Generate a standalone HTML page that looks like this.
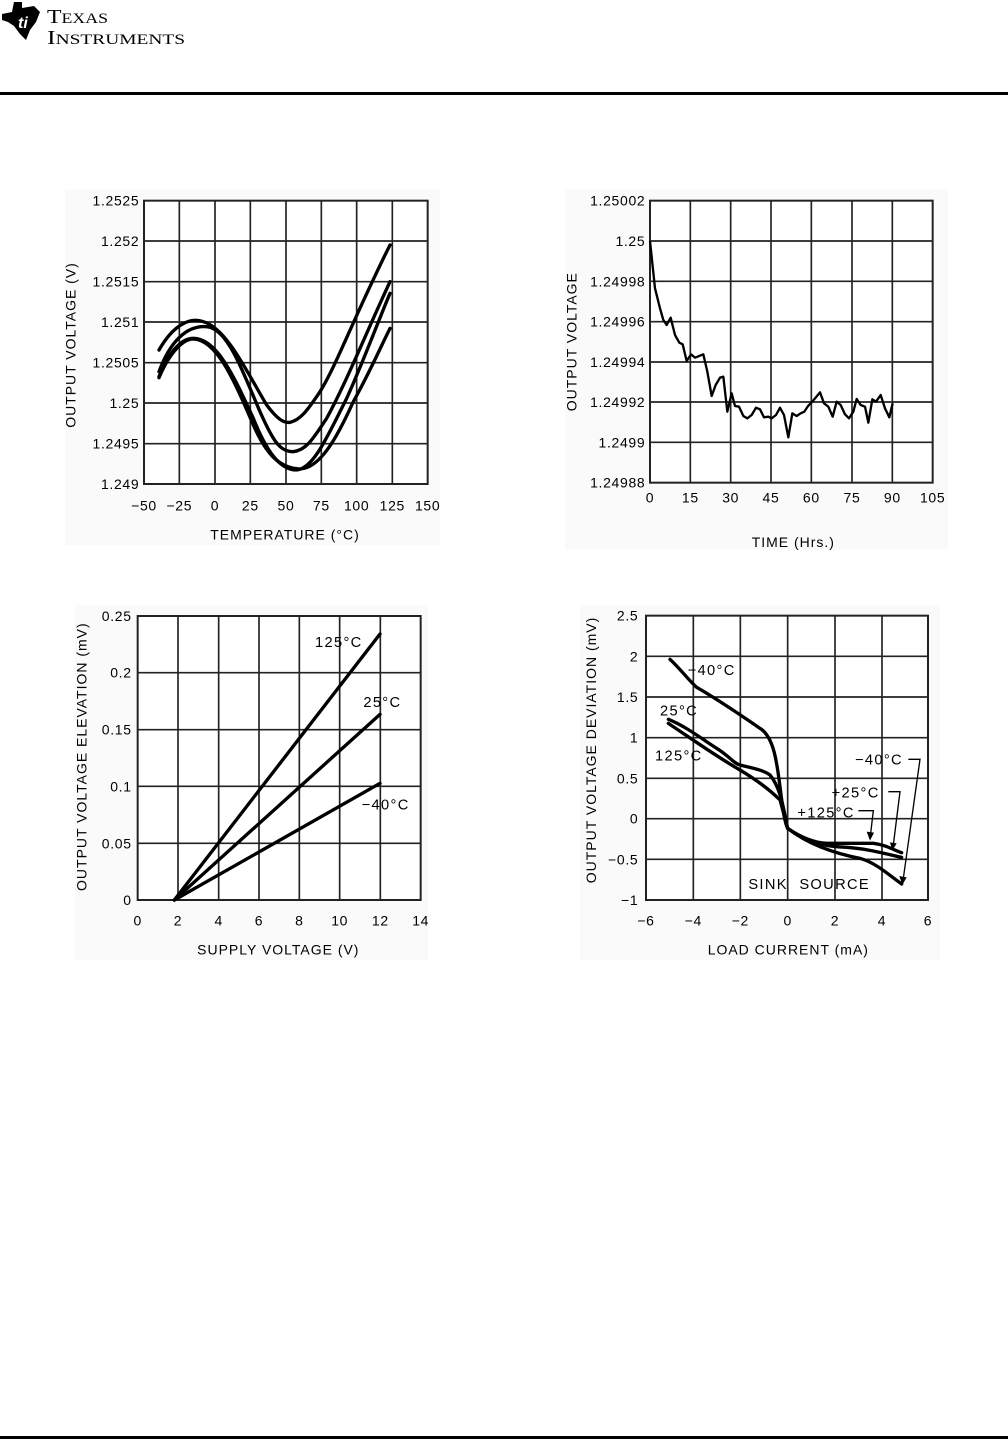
<!DOCTYPE html>
<html><head><meta charset="utf-8"><style>
html,body{margin:0;padding:0;background:#fff;}
svg{display:block;}
text{font-family:"Liberation Sans",sans-serif;fill:#000;}
</style></head><body>
<svg width="1008" height="1440" viewBox="0 0 1008 1440" xmlns="http://www.w3.org/2000/svg">
<rect width="1008" height="1440" fill="#fff"/>
<!-- logo -->
<path d="M2,14 L12,12 L14,2 L22,2 L22,8 L34,6 L40,12 L36,22 L30,30 L26,40 L20,34 L14,26 L8,22 L2,20 Z" fill="#000"/>
<text x="18" y="28" font-size="16" font-style="italic" font-weight="bold" style="fill:#fff">ti</text>
<text x="47" y="23" style="font-family:'Liberation Serif',serif" font-size="20" textLength="61" lengthAdjust="spacingAndGlyphs">T<tspan font-size="15">EXAS</tspan></text>
<text x="47" y="44" style="font-family:'Liberation Serif',serif" font-size="20" textLength="138" lengthAdjust="spacingAndGlyphs">I<tspan font-size="15">NSTRUMENTS</tspan></text>
<rect x="0" y="92" width="1008" height="3" fill="#000"/>
<rect x="0" y="1436" width="1008" height="3" fill="#000"/>

<!-- panels -->
<rect x="65" y="190" width="375" height="355" fill="#fafafa"/>
<rect x="565" y="190" width="383" height="360" fill="#fafafa"/>
<rect x="75" y="605" width="353" height="355" fill="#fafafa"/>
<rect x="580" y="605" width="360" height="355" fill="#fafafa"/>

<!-- CHART 1 -->
<g transform="translate(60,185) scale(0.33333)">
<rect x="252" y="47" width="851" height="850" fill="#fff"/>
<g stroke="#222" stroke-width="5" fill="none">
<path d="M358,47V897M465,47V897M571,47V897M678,47V897M784,47V897M890,47V897M997,47V897M252,168H1103M252,290H1103M252,411H1103M252,533H1103M252,654H1103M252,776H1103"/>
<rect x="252" y="47" width="851" height="850" stroke-width="6"/>
</g>
<g stroke="#000" stroke-width="10" fill="none" stroke-linecap="round">
<path d="M297,495 C340,420 390,395 430,410 C500,430 560,560 620,660 C650,700 670,715 690,712 C720,705 740,680 780,620 C830,540 880,400 990,180"/>
<path d="M297,560 C330,470 380,420 440,425 C500,430 540,540 600,680 C640,770 660,800 700,800 C740,795 760,760 800,700 C860,590 920,440 990,290"/>
<path d="M297,575 C330,490 370,460 400,460 C470,460 520,570 580,700 C620,800 660,855 710,855 C760,850 800,760 860,640 C910,530 950,420 990,325"/>
<path d="M297,578 C330,500 370,462 400,462 C470,465 520,580 580,720 C620,810 660,850 720,852 C780,850 830,760 880,650 C930,560 960,490 990,430"/>
</g>
<g font-size="42" text-anchor="end" letter-spacing="2">
<text x="238" y="62">1.2525</text><text x="238" y="183">1.252</text><text x="238" y="305">1.2515</text><text x="238" y="426">1.251</text><text x="238" y="548">1.2505</text><text x="238" y="669">1.25</text><text x="238" y="791">1.2495</text><text x="238" y="912">1.249</text>
</g>
<g font-size="42" text-anchor="middle" letter-spacing="2">
<text x="252" y="976">−50</text><text x="358" y="976">−25</text><text x="465" y="976">0</text><text x="571" y="976">25</text><text x="678" y="976">50</text><text x="784" y="976">75</text><text x="890" y="976">100</text><text x="997" y="976">125</text><text x="1103" y="976">150</text>
<text x="675" y="1063" letter-spacing="3">TEMPERATURE (°C)</text>
<text transform="translate(46,480) rotate(-90)" letter-spacing="3">OUTPUT VOLTAGE (V)</text>
</g>
</g>

<!-- CHART 2 -->
<g transform="translate(560,185) scale(0.33333)">
<rect x="270" y="47" width="848" height="846" fill="#fff"/>
<g stroke="#222" stroke-width="5" fill="none">
<path d="M391,47V893M512,47V893M633,47V893M754,47V893M876,47V893M997,47V893M270,168H1118M270,289H1118M270,410H1118M270,531H1118M270,651H1118M270,772H1118"/>
<rect x="270" y="47" width="848" height="846" stroke-width="6"/>
</g>
<path fill="none" stroke="#000" stroke-width="7" stroke-linejoin="round" d="M270,168 L285,310 L300,370 L310,405 L320,420 L332,398 L345,450 L358,473 L368,478 L380,528 L393,508 L405,518 L430,508 L442,560 L455,633 L467,600 L480,578 L490,575 L502,680 L515,625 L525,663 L537,665 L550,693 L562,700 L575,690 L588,668 L600,673 L612,697 L625,695 L635,700 L648,690 L660,668 L672,690 L685,757 L697,685 L710,693 L722,685 L733,680 L745,662 L757,650 L780,622 L792,655 L805,665 L818,695 L830,650 L842,660 L855,688 L867,700 L880,680 L890,642 L902,660 L915,665 L925,713 L937,643 L948,650 L962,630 L975,670 L988,697 L998,655"/>
<g font-size="42" text-anchor="end" letter-spacing="2">
<text x="256" y="62">1.25002</text><text x="256" y="183">1.25</text><text x="256" y="304">1.24998</text><text x="256" y="425">1.24996</text><text x="256" y="546">1.24994</text><text x="256" y="666">1.24992</text><text x="256" y="787">1.2499</text><text x="256" y="908">1.24988</text>
</g>
<g font-size="42" text-anchor="middle" letter-spacing="2">
<text x="270" y="953">0</text><text x="391" y="953">15</text><text x="512" y="953">30</text><text x="633" y="953">45</text><text x="754" y="953">60</text><text x="876" y="953">75</text><text x="997" y="953">90</text><text x="1118" y="953">105</text>
<text x="700" y="1086" letter-spacing="3">TIME (Hrs.)</text>
<text transform="translate(49,470) rotate(-90)" letter-spacing="3">OUTPUT VOLTAGE</text>
</g>
</g>

<!-- CHART 3 -->
<g transform="translate(60,600) scale(0.33333)">
<rect x="233" y="48" width="849" height="852" fill="#fff"/>
<g stroke="#222" stroke-width="5" fill="none">
<path d="M354,48V900M476,48V900M597,48V900M718,48V900M839,48V900M961,48V900M233,218H1082M233,389H1082M233,559H1082M233,730H1082"/>
<rect x="233" y="48" width="849" height="852" stroke-width="6"/>
</g>
<g stroke="#000" stroke-width="10" fill="none" stroke-linecap="round">
<path d="M343,900 L960,102"/><path d="M343,900 L960,343"/><path d="M343,900 L960,550"/>
</g>
<g font-size="44" letter-spacing="4">
<text x="765" y="141">125°C</text><text x="910" y="321">25°C</text><text x="905" y="629">−40°C</text>
</g>
<g font-size="42" text-anchor="end" letter-spacing="2">
<text x="215" y="63">0.25</text><text x="215" y="233">0.2</text><text x="215" y="404">0.15</text><text x="215" y="574">0.1</text><text x="215" y="745">0.05</text><text x="215" y="915">0</text>
</g>
<g font-size="42" text-anchor="middle" letter-spacing="2">
<text x="233" y="976">0</text><text x="354" y="976">2</text><text x="476" y="976">4</text><text x="597" y="976">6</text><text x="718" y="976">8</text><text x="839" y="976">10</text><text x="961" y="976">12</text><text x="1082" y="976">14</text>
<text x="655" y="1063" letter-spacing="3">SUPPLY VOLTAGE (V)</text>
<text transform="translate(80,470) rotate(-90)" letter-spacing="3">OUTPUT VOLTAGE ELEVATION (mV)</text>
</g>
</g>

<!-- CHART 4 -->
<g transform="translate(560,600) scale(0.33333)">
<rect x="258" y="47" width="846" height="853" fill="#fff"/>
<g stroke="#222" stroke-width="5" fill="none">
<path d="M400,47V900M541,47V900M683,47V900M825,47V900M966,47V900M258,169H1104M258,291H1104M258,413H1104M258,535H1104M258,656H1104M258,778H1104"/>
<rect x="258" y="47" width="846" height="853" stroke-width="6"/>
</g>
<g stroke="#000" stroke-width="10" fill="none" stroke-linecap="round">
<path d="M330,178 C360,205 385,240 410,262 C450,285 520,330 600,385 C640,410 650,480 660,560 C670,640 675,670 683,685"/>
<path d="M325,358 C380,380 430,420 470,445 C510,470 520,490 540,495 C580,505 610,510 630,525 C660,560 670,620 683,685"/>
<path d="M325,370 C400,420 470,470 540,510 C590,540 630,570 660,600 L683,685"/>
<path d="M683,685 C720,710 760,728 800,730 L940,730 C980,735 1000,750 1025,758"/>
<path d="M683,685 C730,720 780,740 860,742 C920,746 970,760 1025,772"/>
<path d="M683,685 C740,730 820,760 900,775 C950,790 980,820 1025,852"/>
</g>
<g stroke="#000" stroke-width="4" fill="none">
<path d="M895,632 H940 L932,700"/><path d="M985,575 H1020 L1000,735"/><path d="M1045,478 H1080 L1030,835"/>
</g>
<g fill="#000">
<path d="M930,722 L920,695 L942,698 Z"/><path d="M997,752 L990,727 L1010,730 Z"/><path d="M1027,855 L1018,828 L1040,832 Z"/>
</g>
<g font-size="44" letter-spacing="4">
<text x="383" y="225">−40°C</text><text x="300" y="346">25°C</text><text x="285" y="481">125°C</text>
<text x="885" y="493">−40°C</text><text x="815" y="593">+25°C</text><text x="712" y="653">+125°C</text>
<text x="565" y="867">SINK</text><text x="718" y="867">SOURCE</text>
</g>
<g font-size="42" text-anchor="end" letter-spacing="2">
<text x="235" y="62">2.5</text><text x="235" y="184">2</text><text x="235" y="306">1.5</text><text x="235" y="428">1</text><text x="235" y="550">0.5</text><text x="235" y="671">0</text><text x="235" y="793">−0.5</text><text x="235" y="915">−1</text>
</g>
<g font-size="42" text-anchor="middle" letter-spacing="2">
<text x="258" y="976">−6</text><text x="400" y="976">−4</text><text x="541" y="976">−2</text><text x="683" y="976">0</text><text x="825" y="976">2</text><text x="966" y="976">4</text><text x="1104" y="976">6</text>
<text x="685" y="1063" letter-spacing="3">LOAD CURRENT (mA)</text>
<text transform="translate(108,450) rotate(-90)" letter-spacing="3">OUTPUT VOLTAGE DEVIATION (mV)</text>
</g>
</g>
</svg>
</body></html>
